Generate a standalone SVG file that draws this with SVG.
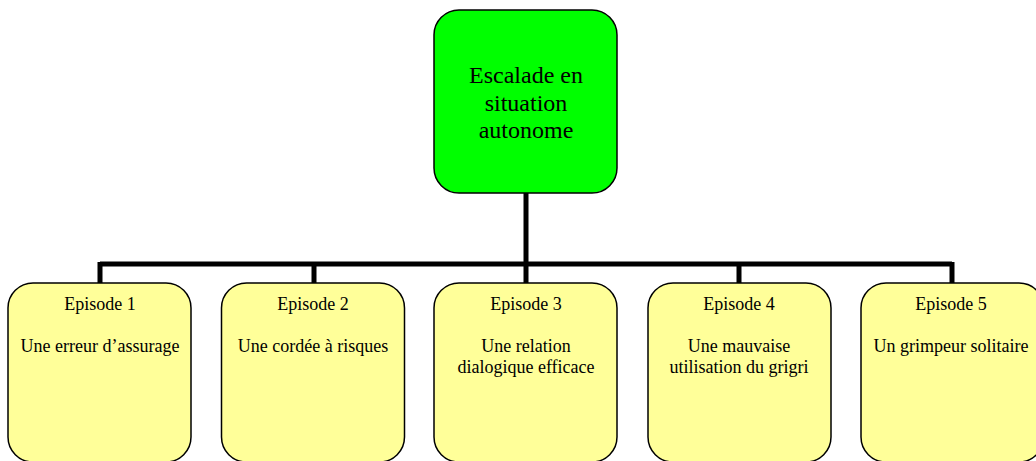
<svg xmlns="http://www.w3.org/2000/svg" width="1036" height="461" viewBox="0 0 1036 461">
<style>
.box{stroke:#000;stroke-width:1.5}
.top{fill:#00ff00}
.ep{fill:#ffff99}
text{font-family:"Liberation Serif","Times New Roman",serif;fill:#000;text-anchor:middle}
.t1{font-size:24px}
.t2{font-size:18px}
.conn{fill:none;stroke:#000;stroke-width:5}
</style>
<rect width="1036" height="461" fill="#fff"/>
<g id="connectors">
<path class="conn" d="M526 193V264M100 264H952M100 262V283M314 262V283M526 262V283M739 262V283M952 262V283"/>
</g>
<g id="root">
<rect class="box top" x="434" y="10" width="183" height="183" rx="25"/>
<text class="t1" x="526" y="83">Escalade en</text>
<text class="t1" x="526" y="111">situation</text>
<text class="t1" x="526" y="138">autonome</text>
</g>
<g id="ep1">
<rect class="box ep" x="8" y="283" width="183" height="179" rx="25"/>
<text class="t2" x="100" y="310">Episode 1</text>
<text class="t2" x="100" y="352">Une erreur d’assurage</text>
</g>
<g id="ep2">
<rect class="box ep" x="221.5" y="283" width="183" height="179" rx="25"/>
<text class="t2" x="313" y="310">Episode 2</text>
<text class="t2" x="313" y="352">Une cordée à risques</text>
</g>
<g id="ep3">
<rect class="box ep" x="434" y="283" width="183" height="179" rx="25"/>
<text class="t2" x="526" y="310">Episode 3</text>
<text class="t2" x="526" y="352">Une relation</text>
<text class="t2" x="526" y="373">dialogique efficace</text>
</g>
<g id="ep4">
<rect class="box ep" x="648" y="283" width="183" height="179" rx="25"/>
<text class="t2" x="739" y="310">Episode 4</text>
<text class="t2" x="739" y="352">Une mauvaise</text>
<text class="t2" x="739" y="373">utilisation du grigri</text>
</g>
<g id="ep5">
<rect class="box ep" x="861" y="283" width="183" height="179" rx="25"/>
<text class="t2" x="951" y="310">Episode 5</text>
<text class="t2" x="951" y="352">Un grimpeur solitaire</text>
</g>
</svg>
